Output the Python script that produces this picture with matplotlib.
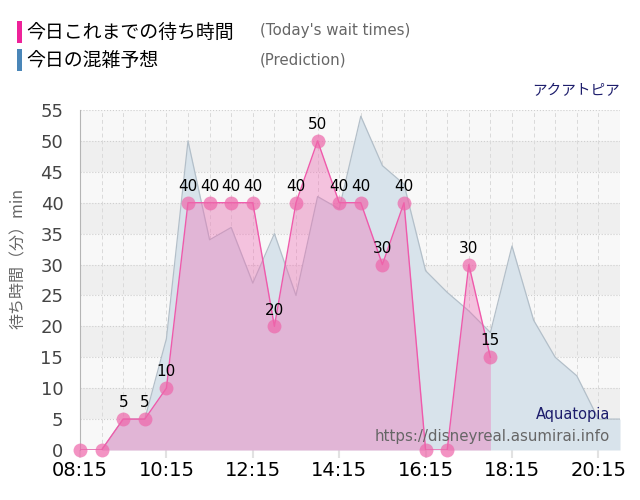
import numpy as np
import matplotlib
matplotlib.use('Agg')
import matplotlib.pyplot as plt
from matplotlib.patches import Rectangle

plt.rcParams['font.family'] = ['DejaVu Sans', 'Noto Sans CJK JP']
JP = ['Noto Sans CJK JP', 'DejaVu Sans']

# today's actual wait times (minutes)
actual_times = ['08:15', '08:45', '09:15', '09:45', '10:15', '10:45', '11:15',
                '11:45', '12:15', '12:45', '13:15', '13:45', '14:15', '14:45',
                '15:15', '15:45', '16:15', '16:45', '17:15', '17:45']
actual_waits = [0, 0, 5, 5, 10, 40, 40, 40, 40, 20, 40, 50, 40, 40, 30, 40,
                0, 0, 30, 15]

# prediction
pred_times = ['08:15', '08:45', '09:15', '09:45', '10:15', '10:45', '11:15',
              '11:45', '12:15', '12:45', '13:15', '13:45', '14:15', '14:45',
              '15:15', '15:45', '16:15', '16:45', '17:15', '17:45', '18:15',
              '18:45', '19:15', '19:45', '20:15', '20:45']
pred_waits = [0, 0, 5, 5, 18, 50, 34, 36, 27, 35, 25, 41, 39, 54, 46, 43,
              29, 25.5, 22.5, 19, 33, 21, 15, 12, 5, 5]

tick_labels = ['08:15', '10:15', '12:15', '14:15', '16:15', '18:15', '20:15']


def to_min(t):
    h, m = t.split(':')
    return int(h) * 60 + int(m)


ax_t = np.array([to_min(t) for t in actual_times])
ax_v = np.array(actual_waits)
pr_t = np.array([to_min(t) for t in pred_times])
pr_v = np.array(pred_waits)
ticks = [to_min(t) for t in tick_labels]

fig = plt.figure(figsize=(6.4, 5), dpi=100)
ax = fig.add_axes([0.125, 0.1, 0.84375, 0.68])

x0, x1 = to_min('08:15'), to_min('20:45')
ax.set_xlim(x0, x1)
ax.set_ylim(0, 55)

# background bands
for i, y in enumerate(range(0, 55, 5)):
    ax.axhspan(y, y + 5, color='#efefef' if i % 2 == 1 else '#f8f8f8',
               zorder=0, lw=0)
for y in range(5, 60, 5):
    ax.axhline(y, color='#cfcfcf', lw=0.8, ls=':', zorder=1)
for x in range(x0 + 30, x1 + 1, 30):
    ax.axvline(x, color='#dadada', lw=0.7, ls=(0, (4, 3)), zorder=1)

# prediction
ax.fill_between(pr_t, pr_v, color='#d8e3eb', lw=0, zorder=2)
ax.plot(pr_t, pr_v, color='#b3bfc9', lw=0.9, zorder=2)

# actual
ax.fill_between(ax_t, ax_v, color='#f06ab4', alpha=0.38, lw=0, zorder=3)
ax.plot(ax_t, ax_v, color='#ef5aab', lw=1, zorder=4)
ax.plot(ax_t, ax_v, 'o', ms=10, color='#ee66aa', alpha=0.7, mec='none',
        zorder=5, clip_on=False)
for t, v in zip(ax_t, ax_v):
    if v > 0:
        ax.annotate(str(v), (t, v), xytext=(0, 8.5), textcoords='offset points',
                    ha='center', va='baseline', fontsize=11, color='black',
                    zorder=6)

ax.set_xticks(ticks)
ax.set_xticklabels(tick_labels)
ax.set_yticks(range(0, 60, 5))
ax.tick_params(axis='x', length=6, width=1.5, color='#e2e2e2', pad=2,
               labelsize=14, labelcolor='black')
ax.tick_params(axis='y', length=0, pad=12, labelsize=13, labelcolor='#444444')
for s in ['top', 'right', 'bottom']:
    ax.spines[s].set_visible(False)
ax.spines['left'].set_color('#b5b5b5')
ax.spines['left'].set_linewidth(0.8)

# legend header
fig.add_artist(Rectangle((17 / 640, 1 - 43 / 500), 5 / 640, 22 / 500,
                         transform=fig.transFigure, color='#ee2299', lw=0))
fig.add_artist(Rectangle((17 / 640, 1 - 71 / 500), 5 / 640, 22 / 500,
                         transform=fig.transFigure, color='#4a86b8', lw=0))
fig.text(26 / 640, 1 - 32 / 500, '今日これまでの待ち時間', family=JP,
         fontsize=13.6, va='center', ha='left', color='black')
fig.text(26 / 640, 1 - 60 / 500, '今日の混雑予想', family=JP,
         fontsize=13.6, va='center', ha='left', color='black')
fig.text(260 / 640, 1 - 31 / 500, "(Today's wait times)", fontsize=10.8,
         va='center', ha='left', color='#666666')
fig.text(260 / 640, 1 - 60 / 500, '(Prediction)', fontsize=10.8,
         va='center', ha='left', color='#666666')

fig.text(620 / 640, 1 - 91 / 500, 'アクアトピア', family=JP, fontsize=10.5,
         va='center', ha='right', color='#1c1c6b')
fig.text(18 / 640, 1 - 258 / 500, '待ち時間（分）min', family=JP, fontsize=11.5,
         rotation=90, va='center', ha='center', color='#666666')
fig.text(610 / 640, 1 - 414 / 500, 'Aquatopia', fontsize=10.5,
         va='center', ha='right', color='#1c1c6b', zorder=10)
fig.text(610 / 640, 1 - 436 / 500, 'https://disneyreal.asumirai.info',
         fontsize=10.8, va='center', ha='right', color='#666666', zorder=10)

fig.savefig('out.png', dpi=100)
